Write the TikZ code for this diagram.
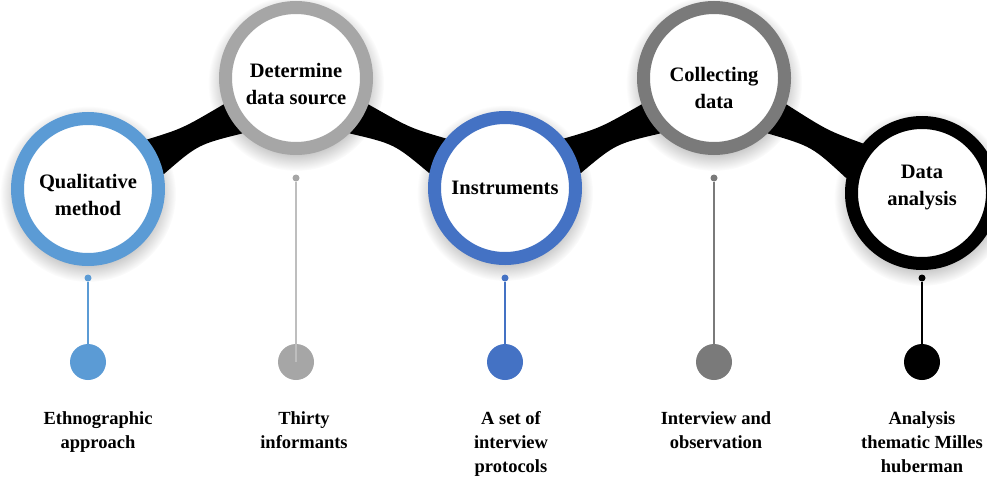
\documentclass[tikz,border=0pt]{standalone}
\usepackage{fontspec}
\setmainfont{Liberation Serif}
\usetikzlibrary{positioning,calc,fadings,backgrounds}
\definecolor{skyblue}{RGB}{91,155,213}
\definecolor{ringgray}{RGB}{166,166,166}
\definecolor{cordgray}{RGB}{190,190,190}
\definecolor{royal}{RGB}{68,114,196}
\definecolor{slate}{RGB}{122,122,122}

\begin{document}
\begin{tikzpicture}[x=1pt,y=-1pt,
  ring/.style={circle,draw=#1,line width=13pt,fill=white,minimum size=141pt,inner sep=0pt},
  stage/.style={align=center,inner sep=0pt,font=\fontsize{20.5}{27}\selectfont\bfseries},
  tip/.style={circle,fill=#1,minimum size=7pt,inner sep=0pt},
  bob/.style={circle,fill=#1,minimum size=36pt,inner sep=0pt},
  cord/.style={draw=#1,line width=1.1pt},
  lab/.style={align=center,inner sep=0pt,font=\fontsize{18.5}{24}\selectfont\bfseries}]
\useasboundingbox (0,0) rectangle (987,479);

% the five stages
\node[ring=skyblue] (c1) at (88,189) {};
\node[ring=ringgray] (c2) at (296,78) {};
\node[ring=royal] (c3) at (505,188) {};
\node[ring=slate] (c4) at (714,78) {};
\node[ring=black] (c5) at (922,193) {};

\node[stage] (n1) at ($(c1)+(0,6)$) {Qualitative\\method};
\node[stage] (n2) at ($(c2)+(0,6)$) {Determine\\data source};
\node[stage] (n3) at (c3) {Instruments};
\node[stage] (n4) at ($(c4)+(0,10)$) {Collecting\\data};
\node[stage] (n5) at ($(c5)+(0,-6)$) {Data\\analysis};

% black bridges and soft shadows behind the rings
\begin{scope}[on background layer]
  \foreach \c in {c1,c2,c3,c4,c5}
    \fill[black,opacity=.22,path fading=circle with fuzzy edge 20 percent] ($(\c)+(0,5)$) circle (88pt);
  \foreach \a/\b in {c1/c2,c3/c4}
    \fill (\a.40) .. controls ($(\a)!.5!(\b)+(-9.5,-5)$) .. (\b.200) -- (\b.226)
      .. controls ($(\a)!.5!(\b)+(6,11)$) .. (\a.11) -- cycle;
  \foreach \a/\b in {c2/c3,c4/c5}
    \fill (\a.340) .. controls ($(\a)!.5!(\b)+(9.5,-5)$) .. (\b.140) -- (\b.169)
      .. controls ($(\a)!.5!(\b)+(-6,11)$) .. (\a.314) -- cycle;
\end{scope}

% pins hanging below each stage
\foreach \i/\x/\y/\col/\cc in {1/88/278/skyblue/skyblue,2/296/178/ringgray/cordgray,
    3/505/278/royal/royal,4/714/178/slate/slate,5/922/278/black/black} {
  \node[tip=\col] (t\i) at (\x,\y) {};
  \node[bob=\col] (b\i) at (\x,362) {};
  \draw[cord=\cc] (t\i) -- (b\i.center);
}

\node[lab,below=31pt of b1,xshift=10pt] (l1) {Ethnographic\\approach};
\node[lab,below=31pt of b2,xshift=8pt] (l2) {Thirty\\informants};
\node[lab,below=31pt of b3,xshift=6pt] (l3) {A set of\\interview\\protocols};
\node[lab,below=31pt of b4,xshift=2pt] (l4) {Interview and\\observation};
\node[lab,below=31pt of b5] (l5) {Analysis\\thematic Milles\\huberman};
\end{tikzpicture}
\end{document}
